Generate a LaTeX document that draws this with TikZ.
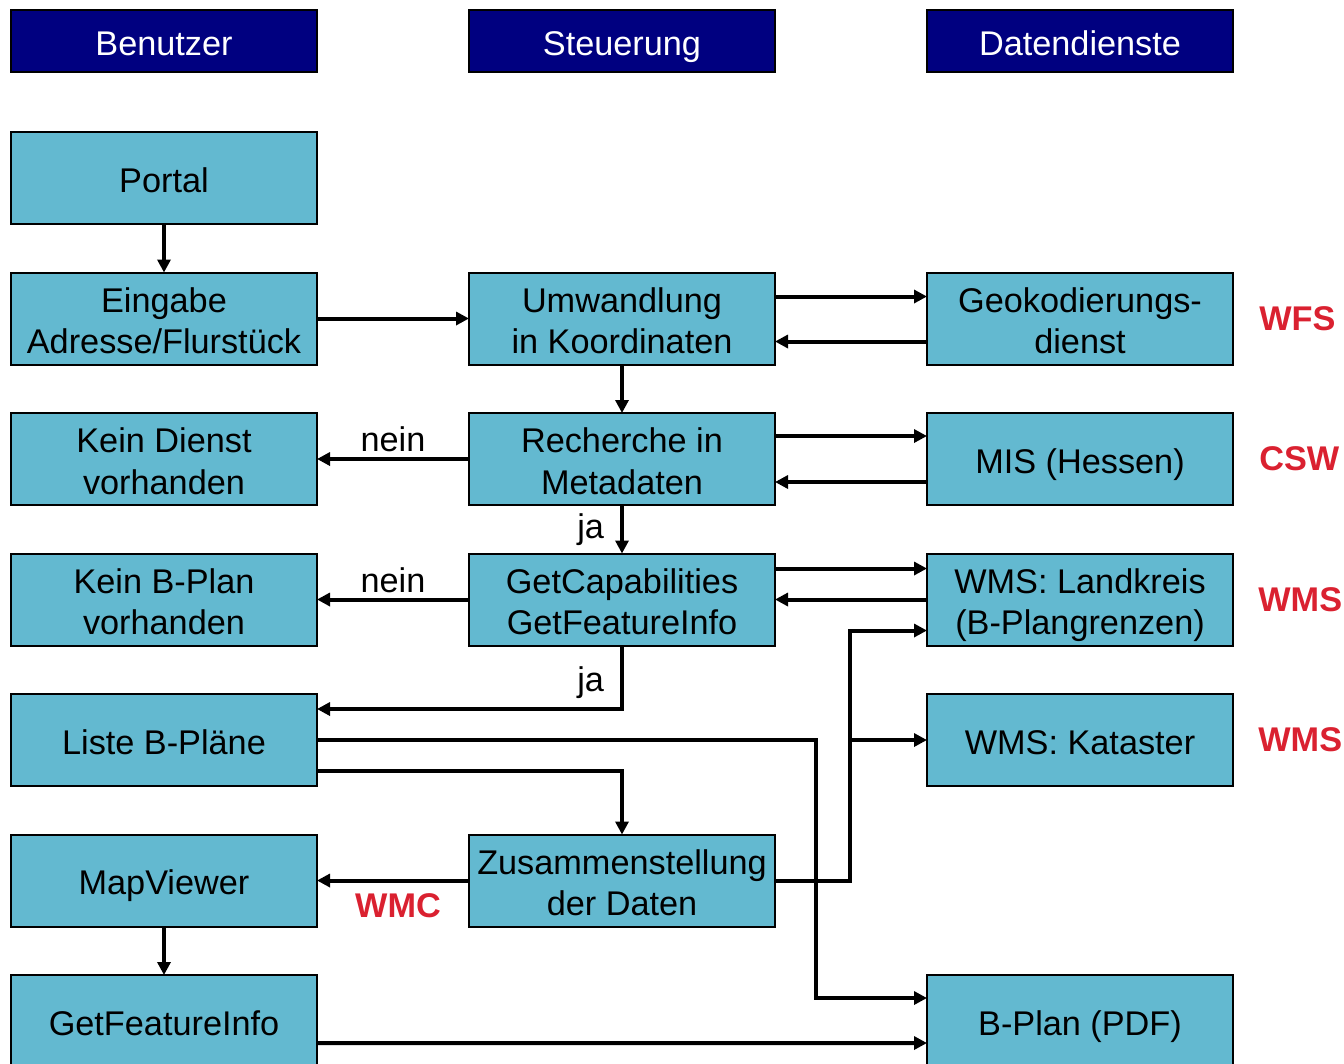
\documentclass[tikz,border=0pt]{standalone}
\usepackage{fontspec}
\setmainfont{Liberation Sans}
\usetikzlibrary{positioning, arrows.meta}
\definecolor{kopfblau}{RGB}{0,0,128}
\definecolor{kastenblau}{RGB}{99,185,208}
\definecolor{dienstrot}{RGB}{218,33,48}
\newcommand\kstrutoben{\rule[-4.4pt]{0pt}{25.2pt}}
\newcommand\kstrutunten{\rule[-4.4pt]{0pt}{4.4pt}}
\tikzset{
    >={Triangle[length=0.26cm, width=0.26cm]}, % volle Pfeilspitzen
    node distance=0.97cm and 3.04cm, % Abstand zwischen den Kaesten
    kasten/.style={draw, line width=0.04cm, fill=kastenblau, outer sep=0pt,
        minimum width=6.12cm, minimum height=1.84cm, inner sep=0pt,
        text width=6.12cm, align=flush center,
        font=\fontsize{19.5}{23.5}\selectfont,
        execute at begin node=\kstrutoben, execute at end node=\kstrutunten}, % die hellblauen Kaesten
    kopf/.style={kasten, fill=kopfblau, text=white, minimum height=1.24cm}, % Spaltenkoepfe
    dienst/.style={inner sep=0pt, text=dienstrot, font=\fontsize{19.5}{23}\selectfont\bfseries}, % WFS, CSW, ...
    marke/.style={inner sep=0pt, font=\fontsize{19.5}{23}\selectfont}, % ja / nein
    fluss/.style={->, line width=0.08cm} % Pfeile
}
\begin{document}
\begin{tikzpicture}
		\useasboundingbox (0,0) rectangle (26.88,-21.26);
		% Spalten
		\node[kopf] (benutzer) at (3.28,-0.82) {Benutzer};
		\node[kopf, right=of benutzer] (steuerung) {Steuerung};
		\node[kopf, right=of steuerung] (daten) {Datendienste};
		
		% Kaesten
		\node[kasten] (portal) at (3.28,-3.56) {Portal};
		\node[kasten, below=of portal] (eingabe) {Eingabe\\Adresse/Flurstück};
		\node[kasten, right=of eingabe] (umw) {Umwandlung\\in Koordinaten};
		\node[kasten, right=of umw] (geo) {Geokodierungs-\\dienst};
		\node[kasten, below=of eingabe] (keindienst) {Kein Dienst\\vorhanden};
		\node[kasten, right=of keindienst] (recherche) {Recherche in\\Metadaten};
		\node[kasten, right=of recherche] (mis) {MIS (Hessen)};
		\node[kasten, below=of keindienst] (keinplan) {Kein B-Plan\\vorhanden};
		\node[kasten, right=of keinplan] (getcap) {GetCapabilities\\GetFeatureInfo};
		\node[kasten, right=of getcap] (wmsland) {WMS: Landkreis\\(B-Plangrenzen)};
		\node[kasten, below=of keinplan] (liste) {Liste B-Pläne};
		\node[kasten, below=of wmsland] (kataster) {WMS: Kataster};
		\node[kasten, below=of liste] (mapviewer) {MapViewer};
		\node[kasten, right=of mapviewer] (zusammen) {Zusammenstellung\\der Daten};
		\node[kasten, below=of mapviewer] (gfi) {GetFeatureInfo};
		\node[kasten, below=3.78cm of kataster] (bplan) {B-Plan (PDF)};
		
		% Dienste
		\node[dienst, right=0.52cm of geo] (wfs) {WFS};
		\node[dienst, right=0.52cm of mis] (csw) {CSW};
		\node[dienst, right=0.5cm of wmsland] (wms1) {WMS};
		\node[dienst, right=0.5cm of kataster] (wms2) {WMS};
		
		% Verbindungen
		\draw[fluss] (portal) -- (eingabe);
		\draw[fluss] (eingabe) -- (umw);
		\draw[fluss] ([yshift=0.44cm]umw.east) -- ([yshift=0.44cm]geo.west);
		\draw[fluss] ([yshift=-0.46cm]geo.west) -- ([yshift=-0.46cm]umw.east);
		\draw[fluss] (umw) -- (recherche);
		\draw[fluss] ([yshift=0.46cm]recherche.east) -- ([yshift=0.46cm]mis.west);
		\draw[fluss] ([yshift=-0.46cm]mis.west) -- ([yshift=-0.46cm]recherche.east);
		\draw[fluss] (recherche) -- node[marke, above=0.1cm] {nein} (keindienst);
		\draw[fluss] (recherche) -- node[marke, left=0.32cm] {ja} (getcap);
		\draw[fluss] ([yshift=0.62cm]getcap.east) -- ([yshift=0.62cm]wmsland.west);
		\draw[fluss] (wmsland) -- (getcap);
		\draw[fluss] (getcap) -- node[marke, above=0.1cm] {nein} (keinplan);
		\draw[fluss] (getcap) |- node[marke, near start, left=0.32cm, yshift=-0.1cm] {ja} ([yshift=0.62cm]liste.east);
		\draw[fluss] (liste.east) -- ++(9.98,0) |- ([yshift=0.46cm]bplan.west);
		\draw[fluss] ([yshift=-0.62cm]liste.east) -| (zusammen);
		\draw[fluss] (zusammen) -- node[dienst, below=0.22cm, xshift=0.1cm] {WMC} (mapviewer);
		\draw[fluss] (zusammen.east) -- ++(1.5,0) |- ([yshift=-0.62cm]wmsland.west);
		\draw[fluss] (zusammen.east) -- ++(1.5,0) |- (kataster.west);
		\draw[fluss] (mapviewer) -- (gfi);
		\draw[fluss] ([yshift=-0.44cm]gfi.east) -- ([yshift=-0.44cm]bplan.west);
	\end{tikzpicture}
\end{document}
